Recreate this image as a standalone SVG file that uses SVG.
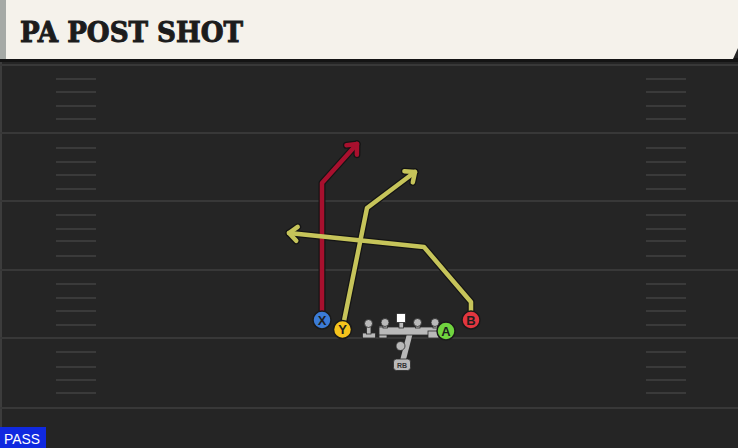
<svg xmlns="http://www.w3.org/2000/svg" width="738" height="448" viewBox="0 0 738 448">
<defs>
<style>
.yard{stroke:#383838;stroke-width:2}
.hash{stroke:#3a3a3a;stroke-width:2}
.out{fill:none;stroke:#141414;stroke-width:7;stroke-linejoin:round;stroke-linecap:round}
.red{fill:none;stroke:#a8102e;stroke-width:4.5;stroke-linejoin:round;stroke-linecap:round}
.yel{fill:none;stroke:#c6c45a;stroke-width:4.5;stroke-linejoin:round;stroke-linecap:round}
.lbl{font-family:"Liberation Sans",Arial,sans-serif;font-weight:bold;font-size:13px;fill:#1e1e1e;text-anchor:middle}
.pc{stroke:#1a1a1a;stroke-width:1.5}
.gr{fill:#b9b9b9}
</style>
<marker id="ahOut" markerUnits="userSpaceOnUse" orient="auto" markerWidth="30" markerHeight="30" viewBox="-15 -15 30 30" refX="0" refY="0">
<path d="M-8,-7 L0,0 L-8,7" fill="none" stroke="#141414" stroke-width="7" stroke-linejoin="round" stroke-linecap="round"/>
</marker>
<marker id="ahRed" markerUnits="userSpaceOnUse" orient="auto" markerWidth="30" markerHeight="30" viewBox="-15 -15 30 30" refX="0" refY="0">
<path d="M-8,-7 L0,0 L-8,7" fill="none" stroke="#a8102e" stroke-width="4.5" stroke-linejoin="round" stroke-linecap="round"/>
</marker>
<marker id="ahYel" markerUnits="userSpaceOnUse" orient="auto" markerWidth="30" markerHeight="30" viewBox="-15 -15 30 30" refX="0" refY="0">
<path d="M-8,-7 L0,0 L-8,7" fill="none" stroke="#c6c45a" stroke-width="4.5" stroke-linejoin="round" stroke-linecap="round"/>
</marker>
</defs>

<g id="field">
<rect x="0" y="0" width="738" height="448" fill="#252525"/>
<rect x="0" y="60" width="2" height="388" fill="#3c3c3c"/>
<line class="yard" x1="0" y1="65" x2="738" y2="65"/>
<line class="yard" x1="0" y1="133" x2="738" y2="133"/>
<line class="yard" x1="0" y1="201" x2="738" y2="201"/>
<line class="yard" x1="0" y1="270" x2="738" y2="270"/>
<line class="yard" x1="0" y1="338" x2="738" y2="338"/>
<line class="yard" x1="0" y1="408" x2="738" y2="408"/>
<g id="hashes-left">
<line class="hash" x1="56" y1="79" x2="96" y2="79"/>
<line class="hash" x1="56" y1="92" x2="96" y2="92"/>
<line class="hash" x1="56" y1="106" x2="96" y2="106"/>
<line class="hash" x1="56" y1="119" x2="96" y2="119"/>
<line class="hash" x1="56" y1="148" x2="96" y2="148"/>
<line class="hash" x1="56" y1="162" x2="96" y2="162"/>
<line class="hash" x1="56" y1="175" x2="96" y2="175"/>
<line class="hash" x1="56" y1="189" x2="96" y2="189"/>
<line class="hash" x1="56" y1="215" x2="96" y2="215"/>
<line class="hash" x1="56" y1="229" x2="96" y2="229"/>
<line class="hash" x1="56" y1="241" x2="96" y2="241"/>
<line class="hash" x1="56" y1="256" x2="96" y2="256"/>
<line class="hash" x1="56" y1="284" x2="96" y2="284"/>
<line class="hash" x1="56" y1="298" x2="96" y2="298"/>
<line class="hash" x1="56" y1="311" x2="96" y2="311"/>
<line class="hash" x1="56" y1="325" x2="96" y2="325"/>
<line class="hash" x1="56" y1="352" x2="96" y2="352"/>
<line class="hash" x1="56" y1="367" x2="96" y2="367"/>
<line class="hash" x1="56" y1="380" x2="96" y2="380"/>
<line class="hash" x1="56" y1="393" x2="96" y2="393"/>
</g>
<g id="hashes-right">
<line class="hash" x1="646" y1="79" x2="686" y2="79"/>
<line class="hash" x1="646" y1="92" x2="686" y2="92"/>
<line class="hash" x1="646" y1="106" x2="686" y2="106"/>
<line class="hash" x1="646" y1="119" x2="686" y2="119"/>
<line class="hash" x1="646" y1="148" x2="686" y2="148"/>
<line class="hash" x1="646" y1="162" x2="686" y2="162"/>
<line class="hash" x1="646" y1="175" x2="686" y2="175"/>
<line class="hash" x1="646" y1="189" x2="686" y2="189"/>
<line class="hash" x1="646" y1="215" x2="686" y2="215"/>
<line class="hash" x1="646" y1="229" x2="686" y2="229"/>
<line class="hash" x1="646" y1="241" x2="686" y2="241"/>
<line class="hash" x1="646" y1="256" x2="686" y2="256"/>
<line class="hash" x1="646" y1="284" x2="686" y2="284"/>
<line class="hash" x1="646" y1="298" x2="686" y2="298"/>
<line class="hash" x1="646" y1="311" x2="686" y2="311"/>
<line class="hash" x1="646" y1="325" x2="686" y2="325"/>
<line class="hash" x1="646" y1="352" x2="686" y2="352"/>
<line class="hash" x1="646" y1="367" x2="686" y2="367"/>
<line class="hash" x1="646" y1="380" x2="686" y2="380"/>
<line class="hash" x1="646" y1="393" x2="686" y2="393"/>
</g>
</g>

<g id="header">
<rect x="0" y="58" width="738" height="4" fill="#141414"/>
<path d="M0,0 H738 V48 L733,59 H0 Z" fill="#f5f2eb"/>
<rect x="0" y="0" width="6" height="59" fill="#a6aaa6"/>
<text x="20" y="42" font-family="DejaVu Serif, 'Liberation Serif', serif" font-weight="bold" font-size="28" fill="#1c1c1c" stroke="#1c1c1c" stroke-width="1" textLength="223" lengthAdjust="spacingAndGlyphs">PA POST SHOT</text>
</g>

<g id="connectors">
<path class="out" d="M322,312 L322,183 L357,144" marker-end="url(#ahOut)"/>
<path class="out" d="M344,321 L367,208 L371,205 L415,172" marker-end="url(#ahOut)"/>
<path class="out" d="M471,312 L471,302 L424,247 L289,233" marker-end="url(#ahOut)"/>
<path class="red" d="M322,312 L322,183 L357,144" marker-end="url(#ahRed)"/>
<path class="yel" d="M344,321 L367,208 L371,205 L415,172" marker-end="url(#ahYel)"/>
<path class="yel" d="M471,312 L471,302 L424,247 L289,233" marker-end="url(#ahYel)"/>
</g>

<g id="line">
<g class="gr" stroke="#2a2a2a" stroke-width="0.8">
<path d="M410,333 L402,364" stroke="#2a2a2a" stroke-width="7"/>
<path d="M410,333 L402,364" stroke="#b9b9b9" stroke-width="5.5"/>
<rect x="362.5" y="333" width="13" height="5"/>
<rect x="366.5" y="324" width="4.5" height="10"/>
<circle cx="368.5" cy="323.5" r="4"/>
<rect x="379" y="326" width="8" height="12"/>
<rect x="379" y="327" width="60" height="8"/>
<rect x="428" y="331" width="11" height="7"/>
<rect x="383" y="323" width="4.5" height="5"/>
<rect x="399" y="320" width="4.5" height="8"/>
<rect x="415.5" y="323" width="4.5" height="5"/>
<rect x="433" y="323" width="4.5" height="5"/>
<circle cx="385" cy="322.5" r="4"/>
<circle cx="417.5" cy="322.5" r="4"/>
<circle cx="435" cy="322.5" r="4"/>
<circle cx="400.5" cy="346" r="4.5"/>
</g>
<rect x="396.5" y="313.5" width="9" height="9" fill="#ffffff" stroke="#2a2a2a" stroke-width="0.8"/>
</g>

<g id="RB">
<rect x="393.5" y="359" width="17" height="11.5" rx="3" fill="#b9b9b9" stroke="#2a2a2a" stroke-width="0.8"/>
<text x="402" y="368" font-family="Liberation Sans, Arial, sans-serif" font-size="7" font-weight="bold" fill="#333" text-anchor="middle">RB</text>
</g>

<g id="X">
<circle class="pc" cx="322" cy="320" r="9" fill="#3b7bd6"/>
<text class="lbl" x="322" y="324.7">X</text>
</g>
<g id="Y">
<circle class="pc" cx="342.5" cy="329.5" r="9" fill="#f5c31c"/>
<text class="lbl" x="342.5" y="334.2">Y</text>
</g>
<g id="A">
<circle class="pc" cx="446" cy="331" r="9" fill="#71d43f"/>
<text class="lbl" x="446" y="335.7">A</text>
</g>
<g id="B">
<circle class="pc" cx="471" cy="320" r="9" fill="#e2363f"/>
<text class="lbl" x="471" y="324.7">B</text>
</g>

<g id="pass">
<rect x="0" y="427" width="46" height="21" fill="#1029e0"/>
<text x="4" y="444" font-family="Liberation Sans, Arial, sans-serif" font-size="15" fill="#ffffff" textLength="36" lengthAdjust="spacingAndGlyphs">PASS</text>
</g>
</svg>
